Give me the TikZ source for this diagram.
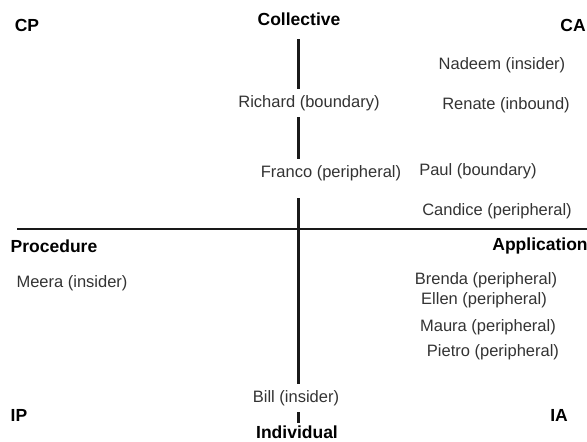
\documentclass[tikz,border=0pt]{standalone}
\usepackage{fontspec}
\setmainfont{Liberation Sans}
\usetikzlibrary{positioning}
\tikzset{
  who/.style={font=\fontsize{16.5}{18}\selectfont, text=black!80, inner sep=1pt},
  onaxis/.style={who, fill=white, inner ysep=6pt},
  pole/.style={font=\fontsize{17.5}{19}\selectfont\bfseries, inner sep=1pt},
  axis/.style={line width=3pt, black!90},
}

\begin{document}
\begin{tikzpicture}[x=1pt,y=-1pt]
  \useasboundingbox (0,0) rectangle (587,442);

  % axes
  \coordinate (top) at (298,39);
  \coordinate (bot) at (298,423);
  \coordinate (left) at (17,229);
  \coordinate (right) at (587,229);
  \draw [axis] (top) -- (bot);
  \draw [axis, line width=2.5pt] (left) -- (right);

  % quadrant and pole labels
  \node [pole] (cp) at (27,25) {CP};
  \node [pole] (ca) at (573,25) {CA};
  \node [pole] (ip) at (19,415) {IP};
  \node [pole] (ia) at (559,415) {IA};
  \node [pole] (coll) at (299,19) {Collective};
  \node [pole] (indiv) at (297,432) {Individual};
  \node [pole] (proc) at (54,246) {Procedure};
  \node [pole] (appl) at (540,246) {Application};

  % people on the axis
  \node [onaxis] (richard) at (309,103) {Richard (boundary)};
  \node [onaxis, text depth=15pt, anchor=base] (franco) at (331,177) {Franco (peripheral)};
  \node [onaxis] (bill) at (296,398) {Bill (insider)};

  % collective / application
  \node [who] (nadeem) at (502,65) {Nadeem (insider)};
  \node [who] (renate) at (506,105) {Renate (inbound)};
  \node [who] (paul) at (478,171) {Paul (boundary)};
  \node [who] (candice) at (497,211) {Candice (peripheral)};

  % procedure
  \node [who] (meera) at (72,283) {Meera (insider)};

  % individual / application
  \node [who] (brenda) at (486,280) {Brenda (peripheral)};
  \node [who, below=2pt of brenda, xshift=-2pt] (ellen) {Ellen (peripheral)};
  \node [who, below=10pt of ellen, xshift=4pt] (maura) {Maura (peripheral)};
  \node [who, below=7pt of maura, xshift=5pt] (pietro) {Pietro (peripheral)};

\end{tikzpicture}
\end{document}
